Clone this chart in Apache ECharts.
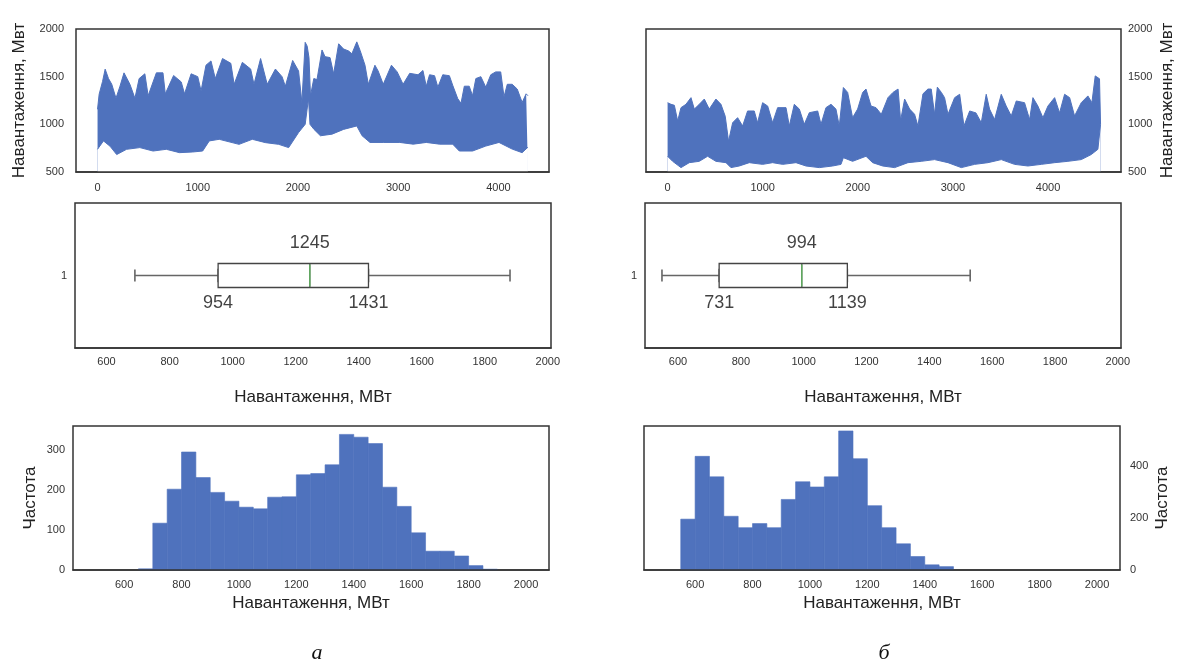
<!DOCTYPE html>
<html>
<head>
<meta charset="utf-8">
<script src="https://cdn.jsdelivr.net/npm/echarts@6/dist/echarts.min.js"></script>
<style>
html, body { margin: 0; padding: 0; background: #fff; }
#chart { width: 1190px; height: 668px; }
</style>
</head>
<body>
<div id="chart"></div>
<script>
// ---- дані: графік навантаження (огинаючі) ----
var loadA_hiX = [0, 16, 50, 76, 109, 142, 184, 224, 264, 323, 373, 415, 472, 505, 587, 653, 676, 759, 835, 868, 934, 1000, 1033, 1082, 1132, 1175, 1247, 1330, 1363, 1445, 1528, 1561, 1627, 1693, 1775, 1841, 1874, 1947, 2006, 2039, 2072, 2092, 2110, 2125, 2158, 2190, 2240, 2270, 2320, 2356, 2406, 2455, 2505, 2538, 2587, 2620, 2669, 2702, 2768, 2800, 2851, 2933, 2990, 3049, 3115, 3198, 3247, 3280, 3313, 3363, 3396, 3445, 3511, 3544, 3594, 3627, 3660, 3709, 3742, 3775, 3825, 3874, 3924, 3973, 4023, 4056, 4089, 4138, 4188, 4237, 4277, 4295];
var loadA_hi = [1158, 1316, 1450, 1579, 1481, 1420, 1274, 1400, 1540, 1420, 1274, 1480, 1530, 1300, 1540, 1540, 1320, 1512, 1445, 1320, 1530, 1500, 1350, 1620, 1665, 1480, 1690, 1640, 1420, 1650, 1580, 1420, 1690, 1420, 1580, 1500, 1400, 1670, 1560, 1230, 1860, 1820, 1700, 1300, 1480, 1470, 1780, 1710, 1700, 1530, 1845, 1790, 1770, 1740, 1865, 1775, 1620, 1420, 1620, 1560, 1420, 1620, 1550, 1420, 1535, 1520, 1565, 1400, 1520, 1510, 1390, 1520, 1510, 1410, 1270, 1220, 1400, 1400, 1300, 1480, 1500, 1390, 1520, 1550, 1550, 1290, 1420, 1420, 1370, 1230, 1320, 1300];
var loadA_loX = [0, 59, 125, 191, 290, 422, 554, 686, 818, 950, 1049, 1115, 1214, 1412, 1544, 1676, 1808, 1907, 2006, 2072, 2090, 2105, 2120, 2160, 2224, 2340, 2455, 2587, 2640, 2719, 2851, 3016, 3150, 3280, 3413, 3544, 3610, 3742, 3874, 4006, 4138, 4237, 4295];
var loadA_lo = [738, 826, 770, 683, 738, 756, 720, 738, 703, 710, 720, 826, 843, 790, 843, 808, 790, 756, 914, 1000, 1150, 1270, 1000, 947, 880, 897, 947, 983, 880, 810, 810, 810, 792, 810, 792, 792, 720, 720, 772, 810, 740, 703, 760];

var loadB_hiX = [0, 36, 71, 106, 141, 193, 246, 281, 333, 386, 438, 508, 561, 606, 641, 684, 736, 789, 841, 911, 946, 999, 1052, 1104, 1157, 1245, 1280, 1332, 1385, 1437, 1490, 1578, 1613, 1665, 1718, 1770, 1805, 1848, 1893, 1945, 1998, 2051, 2086, 2139, 2191, 2247, 2317, 2370, 2423, 2450, 2492, 2545, 2597, 2632, 2685, 2737, 2772, 2807, 2836, 2878, 2912, 2948, 3018, 3071, 3116, 3176, 3242, 3298, 3350, 3385, 3438, 3508, 3560, 3613, 3666, 3753, 3806, 3841, 3893, 3946, 3999, 4069, 4121, 4174, 4227, 4279, 4349, 4419, 4461, 4496, 4541, 4552];
var loadB_hi = [1227, 1210, 1200, 1035, 1175, 1210, 1280, 1160, 1210, 1265, 1160, 1265, 1210, 1085, 822, 1017, 1070, 983, 1140, 1140, 1017, 1227, 1192, 1017, 1175, 1175, 983, 1210, 1160, 1000, 1122, 1140, 1000, 1175, 1210, 1160, 983, 1386, 1335, 1070, 1160, 1335, 1370, 1192, 1175, 1105, 1280, 1335, 1370, 1040, 1265, 1160, 1105, 983, 1320, 1370, 1370, 1105, 1390, 1335, 1280, 1105, 1280, 1315, 983, 1140, 1120, 1017, 1315, 1160, 1050, 1315, 1192, 1088, 1245, 1227, 1050, 1280, 1192, 1070, 1192, 1280, 1120, 1315, 1280, 1088, 1227, 1298, 1227, 1508, 1478, 1000];
var loadB_loX = [0, 53, 141, 228, 333, 421, 508, 614, 666, 754, 859, 999, 1104, 1210, 1350, 1455, 1595, 1735, 1823, 1848, 1945, 2086, 2156, 2261, 2387, 2527, 2667, 2807, 2948, 3088, 3228, 3368, 3508, 3648, 3788, 3929, 4069, 4209, 4349, 4454, 4524, 4552];
var loadB_lo = [665, 612, 546, 598, 612, 665, 612, 598, 546, 563, 598, 580, 598, 580, 598, 563, 546, 563, 580, 650, 612, 665, 598, 563, 546, 598, 612, 630, 598, 546, 580, 598, 630, 580, 563, 580, 598, 612, 630, 683, 738, 1000];

// ---- коробкові діаграми: [min, Q1, медіана, Q3, max] ----
var boxA = [690, 954, 1245, 1431, 1880];
var boxB = [549, 731, 994, 1139, 1530];

// ---- гістограми ----
var histA_edges = [650, 700, 750, 800, 850, 900, 950, 1000, 1050, 1100, 1150, 1200, 1250, 1300, 1350, 1400, 1450, 1500, 1550, 1600, 1650, 1700, 1750, 1800, 1850, 1900];
var histA_counts = [3, 117, 202, 295, 231, 194, 172, 157, 153, 182, 183, 238, 241, 263, 339, 332, 316, 207, 159, 93, 47, 47, 35, 11, 2];
var histB_edges = [550, 600, 650, 700, 750, 800, 850, 900, 950, 1000, 1050, 1100, 1150, 1200, 1250, 1300, 1350, 1400, 1450, 1500];
var histB_counts = [196, 438, 359, 207, 163, 179, 163, 272, 340, 320, 359, 536, 429, 248, 163, 101, 52, 20, 13];

// ---- підписи осей ----
var timeTicks = [0, 1000, 2000, 3000, 4000];
var loadTicks = [500, 1000, 1500, 2000];
var mwTicks = [600, 800, 1000, 1200, 1400, 1600, 1800, 2000];
var freqTicksA = [0, 100, 200, 300];
var freqTicksB = [0, 200, 400];
var boxCats = ['1'];

var BLUE = '#4f72bd';
var FONT = 'Liberation Sans';
var FRAME = '#333';

function zip(xs, ys) {
	var out = [];
	for (var i = 0; i < xs.length; i++) out.push([xs[i], ys[i]]);
	return out;
}
function bins(edges, counts) {
	var out = [];
	for (var i = 0; i < counts.length; i++) out.push([edges[i], edges[i + 1], counts[i]]);
	return out;
}
function histItem(params, api) {
	var p0 = api.coord([api.value(0), api.value(2)]);
	var p1 = api.coord([api.value(1), 0]);
	return {
		type: 'rect',
		shape: { x: p0[0], y: p0[1], width: p1[0] - p0[0], height: p1[1] - p0[1] },
		style: { fill: BLUE, stroke: BLUE, lineWidth: 0.6 }
	};
}

function label(vals, extra) {
	var o = {
		show: true, customValues: vals, color: '#333', fontFamily: FONT, fontSize: 11,
		formatter: function (v) { return String(v); }
	};
	for (var k in extra) o[k] = extra[k];
	return o;
}
function xAx(idx, min, max, ticks, name, margin, gap) {
	return {
		type: 'value', gridIndex: idx, min: min, max: max, z: 5,
		axisLine: { show: true, onZero: false, lineStyle: { color: FRAME, width: 1.5 } },
		axisTick: { show: false },
		splitLine: { show: false },
		axisLabel: label(ticks, { margin: margin }),
		name: name, nameLocation: 'middle', nameGap: gap,
		nameTextStyle: { fontFamily: FONT, fontSize: 17, color: '#222' }
	};
}
function yAx(idx, min, max, ticks, name, pos, margin, gap) {
	return {
		type: 'value', gridIndex: idx, min: min, max: max, position: pos,
		axisLine: { show: false }, axisTick: { show: false }, splitLine: { show: false },
		axisLabel: label(ticks, { margin: margin }),
		name: name, nameLocation: 'middle', nameGap: gap, nameRotate: 90,
		nameTextStyle: { fontFamily: FONT, fontSize: 17, color: '#222' }
	};
}
function catAx(idx, showLabel) {
	return {
		type: 'category', gridIndex: idx, data: boxCats,
		axisLine: { show: false }, axisTick: { show: false }, splitLine: { show: false },
		axisLabel: { show: showLabel, color: '#333', fontFamily: FONT, fontSize: 11, margin: 8 }
	};
}
function gridAt(left, top, width, height) {
	return { left: left, top: top, width: width, height: height, show: true, borderColor: FRAME, borderWidth: 1.5, backgroundColor: '#fff' };
}

function bandSeries(ax, hi, lo) {
	return [{
		type: 'line', xAxisIndex: ax, yAxisIndex: ax, data: hi, showSymbol: false, silent: true,
		lineStyle: { color: BLUE, width: 1 }, areaStyle: { color: BLUE, opacity: 1, origin: 'start' }
	}, {
		type: 'line', xAxisIndex: ax, yAxisIndex: ax, data: lo, showSymbol: false, silent: true,
		lineStyle: { color: BLUE, width: 1 }, areaStyle: { color: '#fff', opacity: 1, origin: 'start' }
	}];
}
function boxSeries(ax, yMain, yAux, b) {
	var txt = { show: true, fontFamily: FONT, fontSize: 18, color: '#111', formatter: function (p) { return String(p.value[0]); } };
	return [{
		// вуса
		type: 'boxplot', xAxisIndex: ax, yAxisIndex: yAux, boxWidth: [12, 12], silent: true,
		itemStyle: { color: '#fff', borderColor: '#666', borderWidth: 1.6 },
		data: [[b[0], b[1], b[2], b[3], b[4]]]
	}, {
		// коробка
		type: 'boxplot', xAxisIndex: ax, yAxisIndex: yMain, boxWidth: [24, 24], silent: true,
		itemStyle: { color: '#fff', borderColor: '#444', borderWidth: 1.3 },
		data: [[b[1], b[1], b[2], b[3], b[3]]]
	}, {
		// медіана
		type: 'scatter', xAxisIndex: ax, yAxisIndex: yMain, symbol: 'rect', symbolSize: [1.4, 22], silent: true,
		itemStyle: { color: '#5fc45f' },
		data: [[b[2], '1']],
		label: Object.assign({ position: 'top', distance: 12 }, txt)
	}, {
		type: 'scatter', xAxisIndex: ax, yAxisIndex: yMain, symbolSize: 0, silent: true,
		data: [[b[1], '1'], [b[3], '1']],
		label: Object.assign({ position: 'bottom', distance: 19 }, txt)
	}];
}

var chart = echarts.init(document.getElementById('chart'));
var option = {
	animation: false,
	backgroundColor: '#fff',
	grid: [
		gridAt(76, 29, 473, 143),
		gridAt(646, 29, 475, 143),
		gridAt(75, 203, 476, 145),
		gridAt(645, 203, 476, 145),
		gridAt(73, 426, 476, 144),
		gridAt(644, 426, 476, 144)
	],
	xAxis: [
		xAx(0, -215, 4505, timeTicks, '', 10, 30),
		xAx(1, -227, 4767, timeTicks, '', 10, 30),
		xAx(2, 500, 2010, mwTicks, 'Навантаження, МВт', 8, 41),
		xAx(3, 495, 2010, mwTicks, 'Навантаження, МВт', 8, 41),
		xAx(4, 422, 2080, mwTicks, 'Навантаження, МВт', 9, 25),
		xAx(5, 422, 2080, mwTicks, 'Навантаження, МВт', 9, 25)
	],
	yAxis: [
		yAx(0, 500, 2000, loadTicks, 'Навантаження, Мвт', 'left', 12, 48),
		yAx(1, 500, 2000, loadTicks, 'Навантаження, Мвт', 'right', 7, 38),
		catAx(2, true),
		catAx(3, true),
		yAx(4, 0, 360, freqTicksA, 'Частота', 'left', 8, 34),
		yAx(5, 0, 555, freqTicksB, 'Частота', 'right', 10, 34),
		catAx(2, false),
		catAx(3, false)
	],
	series: [].concat(
		bandSeries(0, zip(loadA_hiX, loadA_hi), zip(loadA_loX, loadA_lo)),
		bandSeries(1, zip(loadB_hiX, loadB_hi), zip(loadB_loX, loadB_lo)),
		boxSeries(2, 2, 6, boxA),
		boxSeries(3, 3, 7, boxB),
		[{
			type: 'custom', xAxisIndex: 4, yAxisIndex: 4, renderItem: histItem, silent: true,
			encode: { x: [0, 1], y: 2 }, data: bins(histA_edges, histA_counts)
		}, {
			type: 'custom', xAxisIndex: 5, yAxisIndex: 5, renderItem: histItem, silent: true,
			encode: { x: [0, 1], y: 2 }, data: bins(histB_edges, histB_counts)
		}]
	),
	graphic: [
		{ type: 'text', x: 317, y: 653, style: { text: 'а', font: 'italic 22px "Liberation Serif"', fill: '#111', textAlign: 'center', textVerticalAlign: 'middle' } },
		{ type: 'text', x: 884, y: 653, style: { text: 'б', font: 'italic 22px "Liberation Serif"', fill: '#111', textAlign: 'center', textVerticalAlign: 'middle' } }
	]
};
chart.setOption(option);
</script>
</body>
</html>
